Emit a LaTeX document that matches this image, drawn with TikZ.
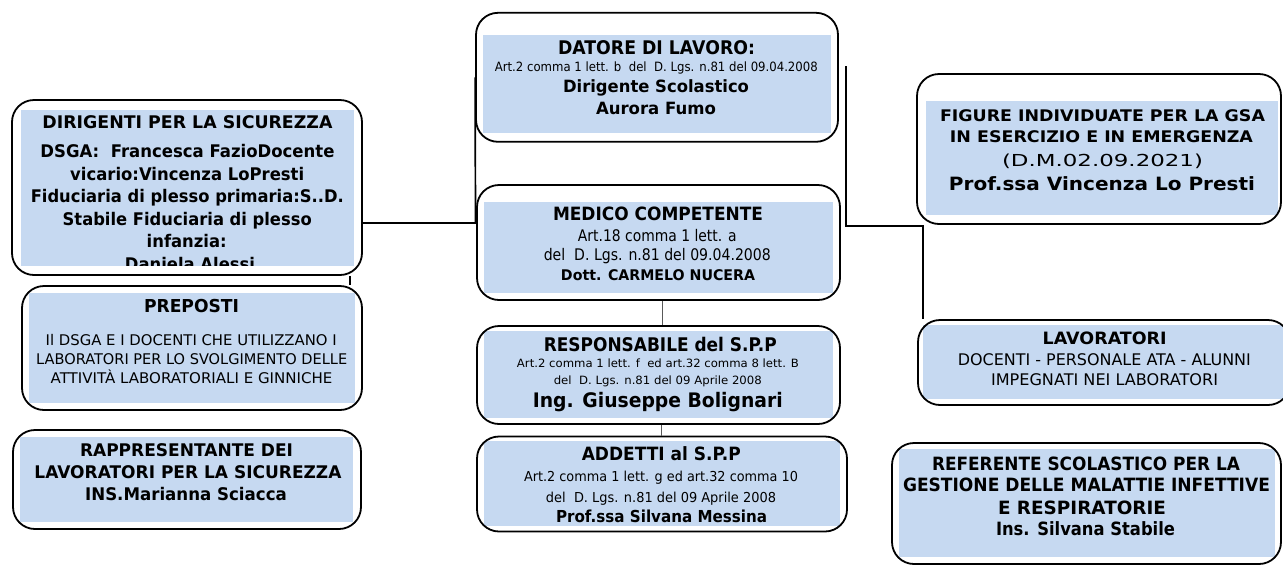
\documentclass[tikz,border=0pt]{standalone}
\usepackage{graphicx}
\usepackage{fontspec}
\setmainfont{DejaVu Sans}
\definecolor{boxfill}{HTML}{C6D9F1}
% \tlb{x}{baseline y}{width}{size}{text} : bold line fitted to width
\newcommand\tlb[5]{\node[tl] at (#1,#2) {\resizebox{#3pt}{\height}{\fontsize{#4}{#4}\selectfont\bfseries #5}};}
\newcommand\tlr[5]{\node[tl] at (#1,#2) {\resizebox{#3pt}{\height}{\fontsize{#4}{#4}\selectfont #5}};}
\begin{document}
\begin{tikzpicture}[x=1pt,y=-1pt,
  box/.style={draw=black, line width=1.8pt, rounded corners=22pt, inner sep=0pt},
  tl/.style={anchor=base, inner sep=0pt, text=black},
  conn/.style={draw=black, line width=1.7pt},
  thinconn/.style={draw=black!65, line width=1pt}]
\useasboundingbox (0,0) rectangle (1283,566);
\clip (0,0) rectangle (1283,566);
% fills
\fill[boxfill] (21,110) rectangle (354,265.7);
\fill[boxfill] (29,293) rectangle (355,403);
\fill[boxfill] (20,437) rectangle (353,522);
\fill[boxfill] (483,35) rectangle (831,133);
\fill[boxfill] (484,201.7) rectangle (833,293);
\fill[boxfill] (484,331) rectangle (833,418);
\fill[boxfill] (484,441) rectangle (840,526);
\fill[boxfill] (926,100.7) rectangle (1278,215);
\fill[boxfill] (923,325) rectangle (1290,399);
\fill[boxfill] (899,449) rectangle (1275,557);
% boxes
\node[box, minimum width=350pt, minimum height=175pt] (dir) at (187,187.5) {};
\node[box, minimum width=340pt, minimum height=124pt] (prep) at (192,348) {};
\node[box, minimum width=348pt, minimum height=99pt] (rap) at (187,479.5) {};
\node[box, minimum width=362pt, minimum height=129pt] (dat) at (657,77.3) {};
\node[box, minimum width=363pt, minimum height=115pt] (med) at (658.5,242.5) {};
\node[box, minimum width=363pt, minimum height=98pt] (resp) at (658.5,375) {};
\node[box, minimum width=370pt, minimum height=95pt] (add) at (662,484) {};
\node[box, minimum width=364pt, minimum height=150pt] (fig) at (1099,149) {};
\node[box, minimum width=372pt, minimum height=85pt] (lav) at (1104,362.5) {};
\node[box, minimum width=389pt, minimum height=121pt] (ref) at (1086.5,503.5) {};
% connectors
\coordinate (j1) at (475.5,223);
\draw[conn] (dat.west) -- (j1) -- (j1 -| dir.east);
\draw[conn] ([xshift=-13pt]dir.south east) -- ([xshift=-13pt]dir.south east |- prep.north);
\coordinate (r0) at (846,66);
\coordinate (lavtop) at ([xshift=6pt]lav.north west);
\draw[conn] (r0) -- ++(0,160) -| (lavtop);
\draw[thinconn] ([xshift=4pt]med.south) -- ([xshift=4pt]med.south |- resp.north);
\draw[thinconn] ([xshift=3pt]resp.south) -- ([xshift=3pt]resp.south |- add.north);
% DIRIGENTI
\begin{scope}
\clip (21,110) rectangle (354,265.7);
\tlb{187.5}{128.3}{290}{17.4}{DIRIGENTI PER LA SICUREZZA}
\tlb{187.5}{157.7}{294}{17.4}{DSGA:\ \ Francesca FazioDocente}
\tlb{187.2}{180}{234}{17.4}{vicario:Vincenza LoPresti}
\tlb{187.3}{202.3}{313}{17.4}{Fiduciaria di plesso primaria:S..D.}
\tlb{187.2}{225}{249}{17.4}{Stabile Fiduciaria di plesso}
\tlb{186.7}{247.3}{80}{17.4}{infanzia:}
\tlb{190}{270}{130}{17.4}{Daniela Alessi}
\end{scope}
% PREPOSTI
\tlb{191.5}{312.3}{95}{17.8}{PREPOSTI}
\tlr{191.2}{345.7}{291}{14.7}{Il DSGA E I DOCENTI CHE UTILIZZANO I}
\tlr{191.7}{364}{311}{14.7}{LABORATORI PER LO SVOLGIMENTO DELLE}
\tlr{191.5}{383.3}{281.7}{14.7}{ATTIVITÀ LABORATORIALI E GINNICHE}
% RAPPRESENTANTE
\tlb{186.5}{456}{213}{17.4}{RAPPRESENTANTE DEI}
\tlb{188}{478.3}{307}{17.4}{LAVORATORI PER LA SICUREZZA}
\tlb{186}{500}{201.7}{17.4}{INS.Marianna Sciacca}
% DATORE
\tlb{656.5}{54.3}{197}{18.8}{DATORE DI LAVORO:}
\tlr{656.3}{71}{323}{12.8}{Art.2 comma 1 lett. b\ \ del\ \ D. Lgs. n.81 del 09.04.2008}
\tlb{656}{92.3}{186}{16.9}{Dirigente Scolastico}
\tlb{656}{114.3}{120}{16.9}{Aurora Fumo}
% MEDICO
\tlb{658}{220.7}{210}{18.3}{MEDICO COMPETENTE}
\tlr{657.3}{241.7}{158.7}{16}{Art.18 comma 1 lett. a}
\tlr{657.3}{260.7}{227}{16}{del\ \ D. Lgs. n.81 del 09.04.2008}
\tlb{658}{280}{194}{14.7}{Dott. CARMELO NUCERA}
% RESPONSABILE
\tlb{660.3}{351}{233}{18.8}{RESPONSABILE del S.P.P}
\tlr{658}{367.7}{282}{11.4}{Art.2 comma 1 lett. f\ \ ed art.32 comma 8 lett. B}
\tlr{657.8}{384}{208}{11.4}{del\ \ D. Lgs. n.81 del 09 Aprile 2008}
\tlb{657.8}{407.3}{250}{20}{Ing. Giuseppe Bolignari}
% ADDETTI
\tlb{661.3}{460}{159}{18.3}{ADDETTI al S.P.P}
\tlr{661}{481.7}{274}{13.7}{Art.2 comma 1 lett. g ed art.32 comma 10}
\tlr{661}{502.3}{230}{13.7}{del\ \ D. Lgs. n.81 del 09 Aprile 2008}
\tlb{661.5}{522.7}{211}{16.5}{Prof.ssa Silvana Messina}
% FIGURE
\tlb{1102.5}{121}{325}{16}{FIGURE INDIVIDUATE PER LA GSA}
\tlb{1101.5}{142.3}{303}{16}{IN ESERCIZIO E IN EMERGENZA}
\tlr{1102.5}{166}{201}{16.5}{(D.M.02.09.2021)}
\tlb{1102}{190}{306}{18.3}{Prof.ssa Vincenza Lo Presti}
% LAVORATORI
\tlb{1104.7}{344}{124}{17}{LAVORATORI}
\tlr{1104.3}{365}{293}{16}{DOCENTI - PERSONALE ATA - ALUNNI}
\tlr{1104.5}{385.7}{227}{16}{IMPEGNATI NEI LABORATORI}
% REFERENTE
\tlb{1086}{470.7}{308}{18.3}{REFERENTE SCOLASTICO PER LA}
\tlb{1086.5}{491.7}{367}{18.3}{GESTIONE DELLE MALATTIE INFETTIVE}
\tlb{1082}{514}{168}{18.3}{E RESPIRATORIE}
\tlb{1085.5}{535}{179}{18.3}{Ins. Silvana Stabile}
\end{tikzpicture}
\end{document}
